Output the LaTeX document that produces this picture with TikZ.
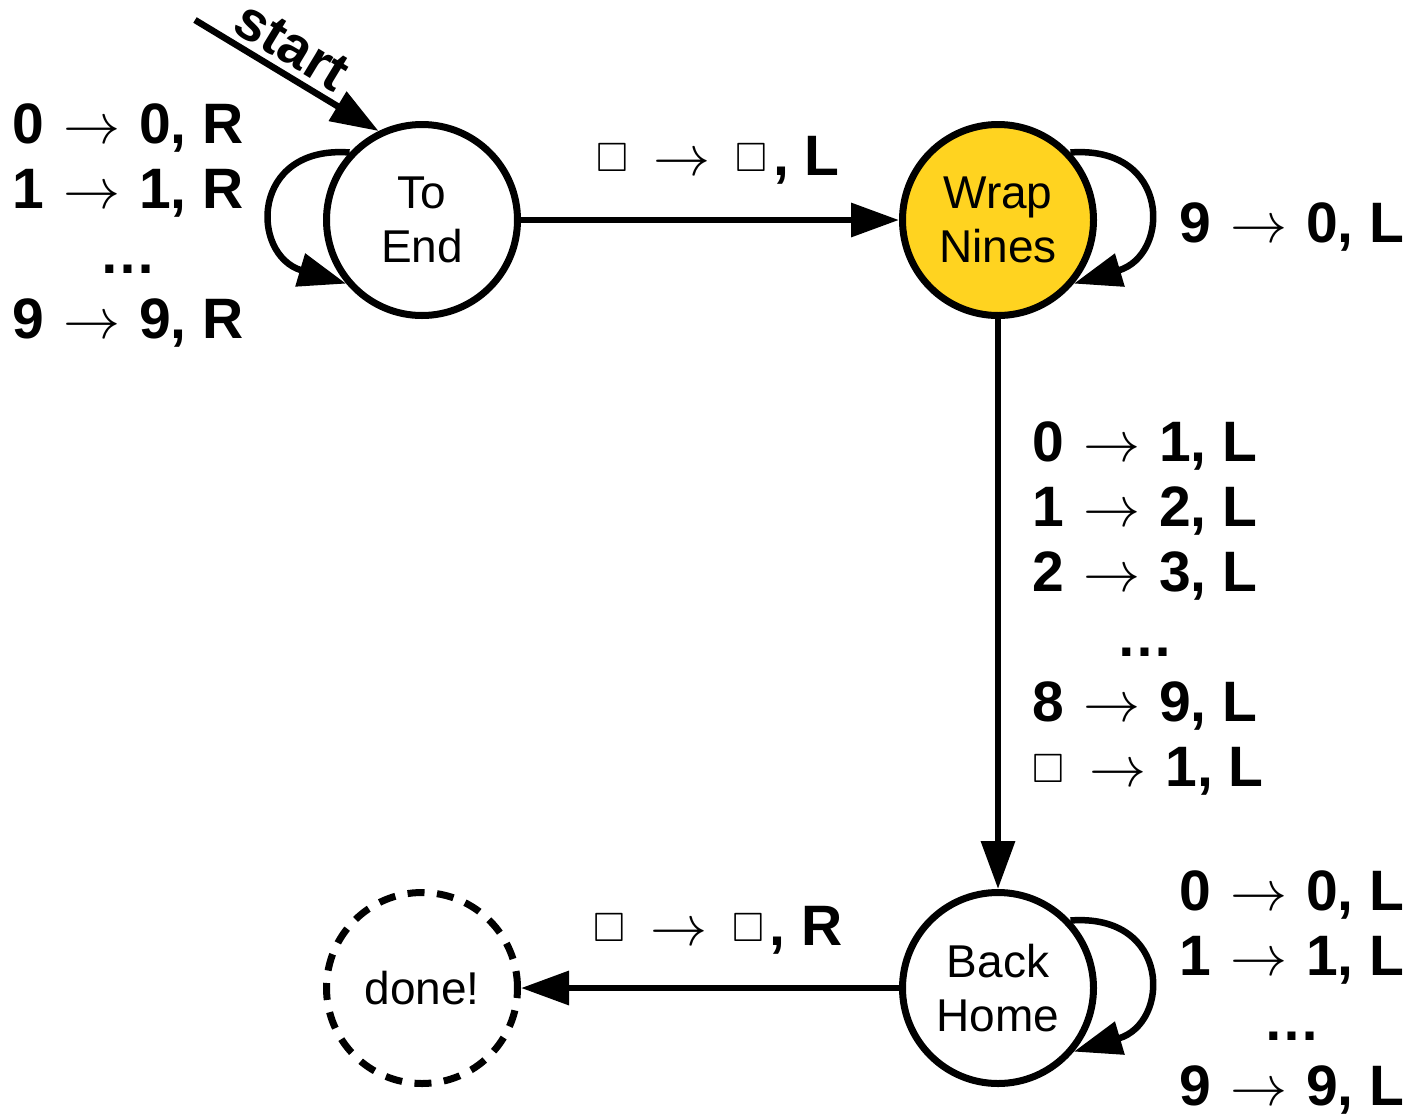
\RequirePackage{fix-cm}
\documentclass[tikz,border=0pt]{standalone}
\usepackage{amssymb}
\usepackage{fontspec}
\setmainfont{Liberation Sans}
\usetikzlibrary{arrows.meta}
\definecolor{wrapyellow}{HTML}{FFD320}
\newcommand\blanksym{\hspace{6pt}\raisebox{4pt}{\fontsize{41}{41}\selectfont$\square$}\hspace{6pt}}
\newcommand\arr{\hspace{19pt}$\rightarrow$\hspace{19pt}}
\begin{document}
\begin{tikzpicture}[x=1pt,y=-1pt,
  state/.style={circle, draw, line width=7pt, minimum size=191pt, inner sep=0pt,
    fill=white, align=center, font=\fontsize{46}{54}\selectfont},
  edge/.style={line width=6.5pt, -{Triangle[length=48pt,width=33pt]}},
  lbl/.style={font=\bfseries\fontsize{57}{65}\selectfont, align=center, inner sep=0pt},
  startlbl/.style={font=\bfseries\fontsize{56}{56}\selectfont, inner sep=6pt}]
\useasboundingbox (0,0) rectangle (1413,1117);
\node[state] (toend) at (422,220) {To\\End};
\node[state, fill=wrapyellow] (wrap) at (998,220) {Wrap\\Nines};
\node[state] (back) at (998,988) {Back\\Home};
\node[state, dash pattern=on 17pt off 12.5pt] (done) at (422,988) {done!};
\coordinate (s) at (195,20);
\draw[edge] (s) -- node[sloped, above, pos=0.45, startlbl] (startl) {start} (toend.116);
\draw[edge] (toend) -- (wrap);
\draw[edge] (wrap) -- (back);
\draw[edge] (back) -- (done);
\draw[edge] (toend.137) .. controls (250,145) and (250,255) .. (toend.220);
\draw[edge] (wrap.43) .. controls (1171,145) and (1171,255) .. (wrap.-40);
\draw[edge] (back.43) .. controls (1171,913) and (1171,1023) .. (back.-40);
\node[lbl] (l1) at (128,225.5) {0\arr 0, R\\1\arr 1, R\\…\\9\arr 9, R};
\node[lbl, anchor=base] (l2) at (715,175) {\blanksym\arr\blanksym, L};
\node[lbl, anchor=base] (l3) at (1292,242) {9\arr 0, L};
\node[lbl] (l4) at (1145,608.5) {0\arr 1, L\\1\arr 2, L\\2\arr 3, L\\…\\8\arr 9, L\\\blanksym\arr 1, L};
\node[lbl, anchor=base] (l5) at (715,945) {\blanksym\arr\blanksym, R};
\node[lbl] (l6) at (1292,992.5) {0\arr 0, L\\1\arr 1, L\\…\\9\arr 9, L};
\end{tikzpicture}
\end{document}
